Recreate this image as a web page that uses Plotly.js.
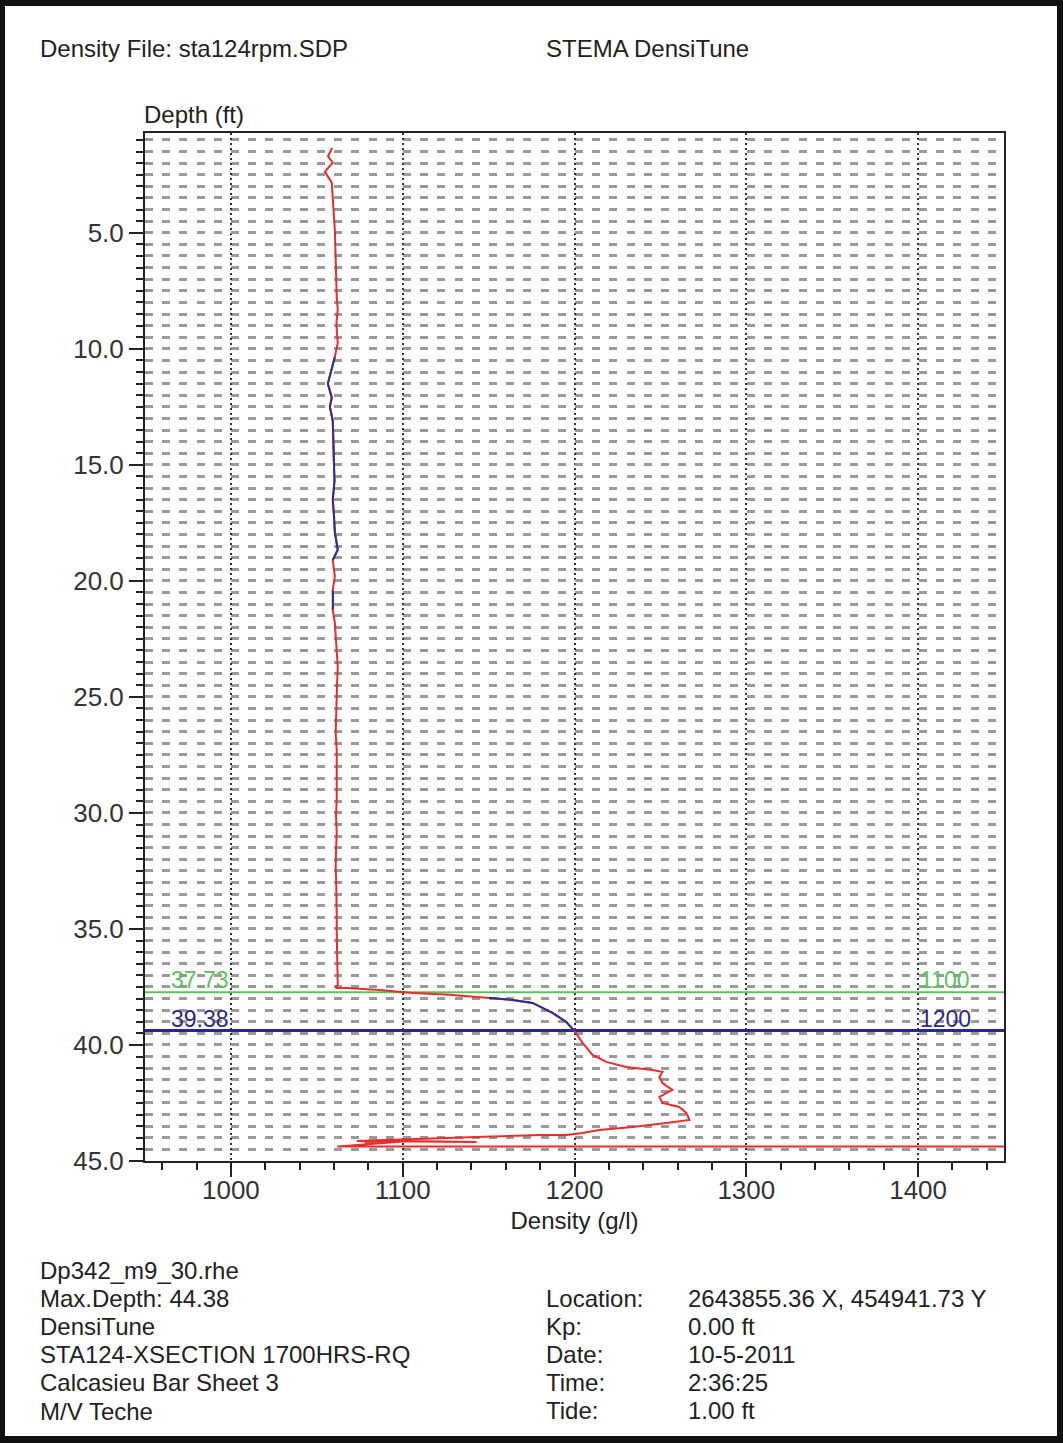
<!DOCTYPE html>
<html>
<head>
<meta charset="utf-8">
<script src="https://cdn.plot.ly/plotly-3.0.1.min.js"></script>
<style>
  html, body { margin: 0; padding: 0; background: #fff; }
  #wrap { position: relative; width: 1063px; height: 1443px; }
  #chart { position: absolute; left: 0; top: 0; width: 1063px; height: 1443px; }
  #frame { position: absolute; left: 0; top: 0; width: 1063px; height: 1443px; box-sizing: border-box;
           border-style: solid; border-color: #111; border-width: 6px 6px 7px 5px; pointer-events: none; }
</style>
</head>
<body>
<div id="wrap"><div id="chart"></div><div id="frame"></div></div>
<script>
// ---- Data ----
const depthFt = [1.34, 1.7, 1.98, 2.37, 2.84, 3.45, 4.2, 4.87, 5.6, 6.3,
  7.0, 7.76, 8.3, 8.8, 9.2, 9.75, 10.35, 10.9, 11.5, 12.1,
  12.5, 13.1, 13.6, 14.3, 15.0, 15.7, 16.5, 17.2, 17.9, 18.66,
  19.1, 19.8, 20.4, 20.9, 21.25, 21.8, 22.5, 23.1, 23.7, 24.4,
  25.1, 25.8, 26.55, 27.3, 28.0, 28.7, 29.4, 30.1, 30.9, 31.6,
  32.3, 33.0, 33.75, 34.5, 35.2, 35.9, 36.6, 37.0, 37.41, 37.54,
  37.54, 37.63, 37.76, 37.84, 37.97, 38.06, 38.19, 38.62, 39.01, 39.27,
  39.4, 39.91, 40.43, 40.73, 40.95, 41.08, 41.16, 41.38, 41.64, 41.94,
  42.24, 42.5, 42.67, 42.93, 43.23, 43.36, 43.53, 43.66, 43.79, 43.88,
  43.88, 43.97, 44.05, 44.14, 44.18, 44.12, 44.22, 44.16, 44.35, 44.38,
  44.38];
const densityGl = [1059, 1056.5, 1059.3, 1054.7, 1058.7, 1059.3, 1060, 1060.5, 1060.8, 1061,
  1061.3, 1061.6, 1062.2, 1061.5, 1061.6, 1062.2, 1060.5, 1058.7, 1056.4, 1058.7,
  1057.6, 1059.3, 1059.6, 1059.8, 1060, 1060.3, 1059.3, 1060, 1060.5, 1062.2,
  1059.3, 1060.5, 1059.3, 1059.5, 1059.3, 1060.5, 1061, 1061.8, 1062.2, 1061.8,
  1061.6, 1061, 1061, 1061.6, 1061.6, 1062, 1061.6, 1061.2, 1061.6, 1061.2,
  1061, 1061.3, 1061.6, 1061.6, 1061.6, 1061.8, 1061.6, 1062, 1062.2, 1061,
  1067.4, 1086.6, 1105.8, 1127.3, 1150.6, 1164, 1175.6, 1187.2, 1195.3, 1198.3,
  1200, 1204.7, 1210.5, 1218.6, 1230.2, 1245.3, 1251.2, 1249.4, 1251.2, 1257,
  1249.4, 1251.2, 1261, 1265.1, 1266.9, 1253.5, 1233.7, 1214.5, 1204.7, 1195.3,
  1179.7, 1143, 1109.9, 1073.3, 1143, 1080, 1077.9, 1100, 1066.3, 1062,
  1450];
// depth intervals drawn in blue
const blueFrom = [10.35, 20.4, 37.97];
const blueTo   = [19.1, 21.25, 39.4];

// marker depth lines and their labels
const markerDepths = [37.73, 39.38];
const markerDensityLabels = ["1100", "1200"];

const headerLeft = "Density File: sta124rpm.SDP";
const headerRight = "STEMA DensiTune";
const infoLeft = ["Dp342_m9_30.rhe", "Max.Depth: 44.38", "DensiTune",
  "STA124-XSECTION 1700HRS-RQ", "Calcasieu Bar Sheet 3", "M/V Teche"];
const infoKeys = ["Location:", "Kp:", "Date:", "Time:", "Tide:"];
const infoVals = ["2643855.36 X, 454941.73 Y", "0.00 ft", "10-5-2011", "2:36:25", "1.00 ft"];

const xRange = [950, 1450];
const yRange = [45, 0.7];

// ---- Build traces ----
const blueX = [], blueY = [];
for (let r = 0; r < blueFrom.length; r++) {
  for (let i = 0; i < depthFt.length; i++) {
    if (depthFt[i] >= blueFrom[r] && depthFt[i] <= blueTo[r]) {
      blueX.push(densityGl[i]); blueY.push(depthFt[i]);
    }
  }
  blueX.push(null); blueY.push(null);
}

const RED = 'rgb(232,45,45)';
const BLUE = 'rgb(45,45,160)';
const GREEN = 'rgb(95,190,95)';
const markerColors = [GREEN, 'rgb(40,40,140)'];
const markerWidths = [2, 3];

const traces = [];
markerDepths.forEach((d, k) => {
  traces.push({ x: xRange.slice(), y: [d, d], mode: 'lines', hoverinfo: 'skip',
    line: { color: markerColors[k], width: markerWidths[k] }, showlegend: false });
});
traces.push({ x: densityGl, y: depthFt, mode: 'lines', line: { color: RED, width: 2 }, showlegend: false });
traces.push({ x: blueX, y: blueY, mode: 'lines', line: { color: BLUE, width: 2 }, showlegend: false, connectgaps: false });

// ---- Layout ----
const W = 1063, H = 1443;
const L = 145, R = 1004, T = 133, B = 1161;
const px = (x) => (x - L) / (R - L);
const py = (y) => (B - y) / (B - T);
const FONT = 'Liberation Sans, Arial, sans-serif';
const TXT = '#222';

const annotations = [];
function txt(text, x, y, size, color, anchor) {
  annotations.push({ text: text, xref: 'paper', yref: 'paper', x: px(x), y: py(y),
    xanchor: anchor || 'left', yanchor: 'middle', showarrow: false,
    font: { family: FONT, size: size, color: color || TXT } });
}
txt(headerLeft, 38, 48, 24);
txt(headerRight, 544, 48, 24);
txt('Depth (ft)', 142, 114, 24);
infoLeft.forEach((s, i) => txt(s, 38, 1270 + i * 28.2, 24));
infoKeys.forEach((s, i) => txt(s, 544, 1298 + i * 28.2, 24));
infoVals.forEach((s, i) => txt(s, 686, 1298 + i * 28.2, 24));
markerDepths.forEach((d, k) => {
  annotations.push({ text: d.toFixed(2), x: 964, y: d, xref: 'x', yref: 'y', xanchor: 'left', yanchor: 'bottom',
    yshift: -3, showarrow: false, font: { family: FONT, size: 23, color: markerColors[k] } });
  annotations.push({ text: markerDensityLabels[k], x: 1400, y: d, xref: 'x', yref: 'y', xanchor: 'left', yanchor: 'bottom',
    yshift: -3, showarrow: false, font: { family: FONT, size: 23, color: markerColors[k] } });
});

const layout = {
  width: W, height: H,
  margin: { l: L, r: W - R, t: T, b: H - B, pad: 0 },
  paper_bgcolor: '#fff', plot_bgcolor: '#fff',
  showlegend: false,
  font: { family: FONT, color: TXT },
  xaxis: {
    range: xRange, tick0: 1000, dtick: 100, ticks: 'outside', ticklen: 14, tickwidth: 2, tickcolor: '#222',
    showline: true, linecolor: '#222', linewidth: 2, mirror: true, zeroline: false,
    showgrid: true, gridcolor: '#333', gridwidth: 2, griddash: '2px,3px',
    tickfont: { family: FONT, size: 26, color: '#333' }, ticklabelstandoff: -9,
    minor: { dtick: 20, ticks: 'outside', ticklen: 7, tickwidth: 2, tickcolor: '#222', showgrid: false },
    title: { text: 'Density (g/l)', font: { family: FONT, size: 24, color: TXT }, standoff: 8 }
  },
  yaxis: {
    range: yRange, tick0: 0, dtick: 5, tickformat: '.1f', ticks: 'outside', ticklen: 14, tickwidth: 2, tickcolor: '#222',
    showline: true, linecolor: '#222', linewidth: 2, mirror: true, zeroline: false,
    showgrid: true, gridcolor: '#9a9a9a', gridwidth: 3, griddash: '8px,9.2px',
    tickfont: { family: FONT, size: 26, color: '#333' },
    minor: { dtick: 0.5, ticks: 'outside', ticklen: 7, tickwidth: 2, tickcolor: '#222',
             showgrid: true, gridcolor: '#9a9a9a', gridwidth: 3, griddash: '8px,9.2px' }
  },
  annotations: annotations
};

Plotly.newPlot('chart', traces, layout, { displayModeBar: false, staticPlot: true });
</script>
</body>
</html>
